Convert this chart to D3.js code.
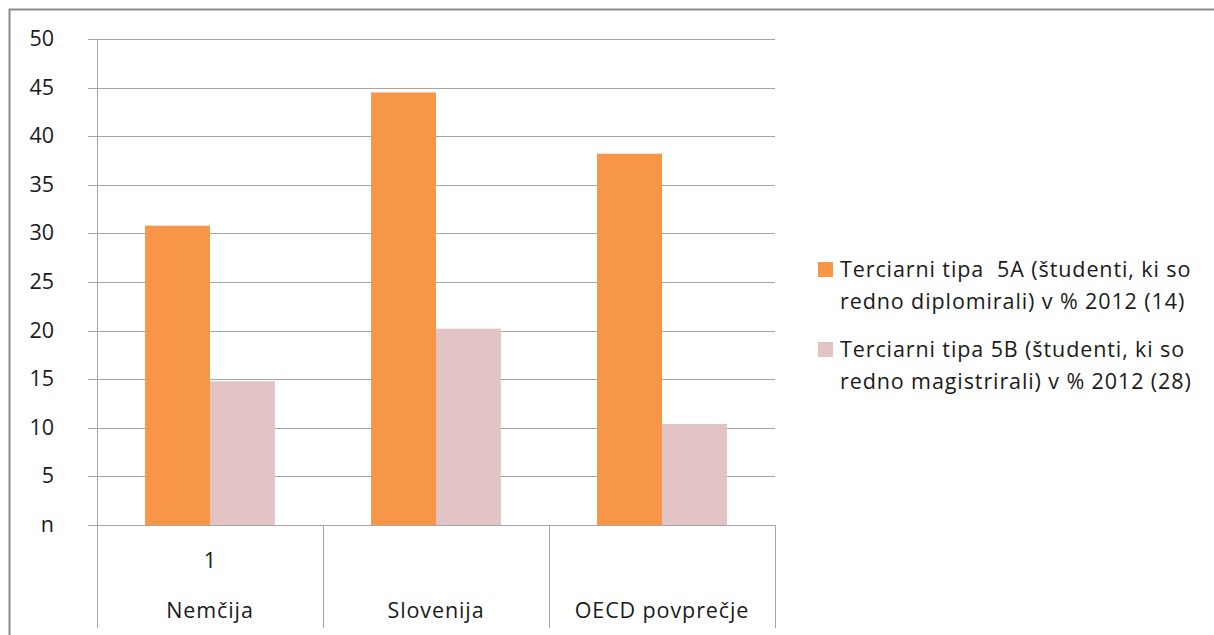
<!DOCTYPE html>
<html><head><meta charset="utf-8">
<script src="https://cdn.jsdelivr.net/npm/d3@7"></script>
<style>body{margin:0;background:#fff}svg{display:block}text{font-family:"Open Sans","Noto Sans",sans-serif;fill:#1a1a1a}</style>
</head><body><svg id="c" width="1214" height="635"></svg>
<script>
const categories = ["Nemčija", "Slovenija", "OECD povprečje"];
const subLabels = ["1", "", ""];
const seriesNames = ["Terciarni tipa  5A (študenti, ki so|redno diplomirali) v % 2012 (14)", "Terciarni tipa 5B (študenti, ki so|redno magistrirali) v % 2012 (28)"];
const series5A = [30.8, 44.5, 38.2];
const series5B = [14.8, 20.2, 10.4];
const yTicks = [0, 5, 10, 15, 20, 25, 30, 35, 40, 45, 50];
const yTickLabels = ["n", "5", "10", "15", "20", "25", "30", "35", "40", "45", "50"];
const colors = ["#F79646", "#E2C4C5"];

const svg = d3.select("#c");
const FS = 21.5, LS = "0.9px";
// outer frame
svg.append("path").attr("d", "M9.5,635 L9.5,9.5 L1214,9.5").attr("fill", "none").attr("stroke", "#8c8c8c").attr("stroke-width", 2);

const pLeft = 97, pRight = 775, pTop = 39, pBottom = 525;
const y = d3.scaleLinear().domain([0, 50]).range([pBottom, pTop]);
const x0 = d3.scaleBand().domain(categories).range([pLeft, pRight]).paddingInner(0).paddingOuter(0);
const x1 = d3.scaleBand().domain([0, 1]).range([0, x0.bandwidth()]).paddingInner(0).paddingOuter(0.74);

// gridlines
svg.append("g").selectAll("line").data(yTicks).join("line")
  .attr("x1", 88).attr("x2", pRight).attr("y1", d => Math.round(y(d)) + 0.5).attr("y2", d => Math.round(y(d)) + 0.5)
  .attr("stroke", "#a6a6a6").attr("stroke-width", 1);

// y axis
const yAxis = d3.axisLeft(y).tickValues(yTicks).tickFormat((d, i) => yTickLabels[i]).tickSize(0).tickPadding(0);
const ga = svg.append("g").attr("transform", `translate(54,0)`).call(yAxis);
ga.select(".domain").remove();
ga.selectAll("text").attr("font-size", FS).attr("fill", "#1a1a1a").attr("dy", "0.3em")
  .style("font-family", '"Open Sans","Noto Sans",sans-serif');

// bars
const data = categories.map((c, i) => ({c, vals: [series5A[i], series5B[i]]}));
const g = svg.append("g");
g.selectAll("g").data(data).join("g").attr("transform", d => `translate(${x0(d.c)},0)`)
  .selectAll("rect").data(d => d.vals.map((v, k) => ({v, k}))).join("rect")
  .attr("x", d => x1(d.k)).attr("width", x1.bandwidth())
  .attr("y", d => y(d.v)).attr("height", d => pBottom - y(d.v))
  .attr("fill", d => colors[d.k]);

// vertical axis line and category separators
svg.append("line").attr("x1", pLeft + 0.5).attr("x2", pLeft + 0.5).attr("y1", pTop).attr("y2", 628).attr("stroke", "#a6a6a6");
svg.append("g").selectAll("line").data(categories).join("line")
  .attr("x1", d => Math.round(x0(d) + x0.step()) + 0.5)
  .attr("x2", d => Math.round(x0(d) + x0.step()) + 0.5)
  .attr("y1", pBottom).attr("y2", 628).attr("stroke", "#a6a6a6");

// category labels
svg.append("g").selectAll("text").data(categories).join("text")
  .attr("x", d => x0(d) + x0.bandwidth() / 2).attr("y", 618).attr("text-anchor", "middle")
  .attr("font-size", FS).style("letter-spacing", LS).text(d => d);
svg.append("g").selectAll("text").data(subLabels).join("text")
  .attr("x", (d, i) => x0(categories[i]) + x0.bandwidth() / 2).attr("y", 568).attr("text-anchor", "middle")
  .attr("font-size", FS).text(d => d);

// legend
const lg = svg.append("g");
seriesNames.forEach((name, i) => {
  const by = 262 + i * 80;
  lg.append("rect").attr("x", 818).attr("y", by).attr("width", 15).attr("height", 15).attr("fill", colors[i]);
  name.split("|").forEach((ln, j) => {
    lg.append("text").attr("x", 840).attr("y", by + 15 + j * 32).attr("font-size", FS)
      .style("letter-spacing", LS).style("white-space", "pre").text(ln);
  });
});
</script></body></html>
